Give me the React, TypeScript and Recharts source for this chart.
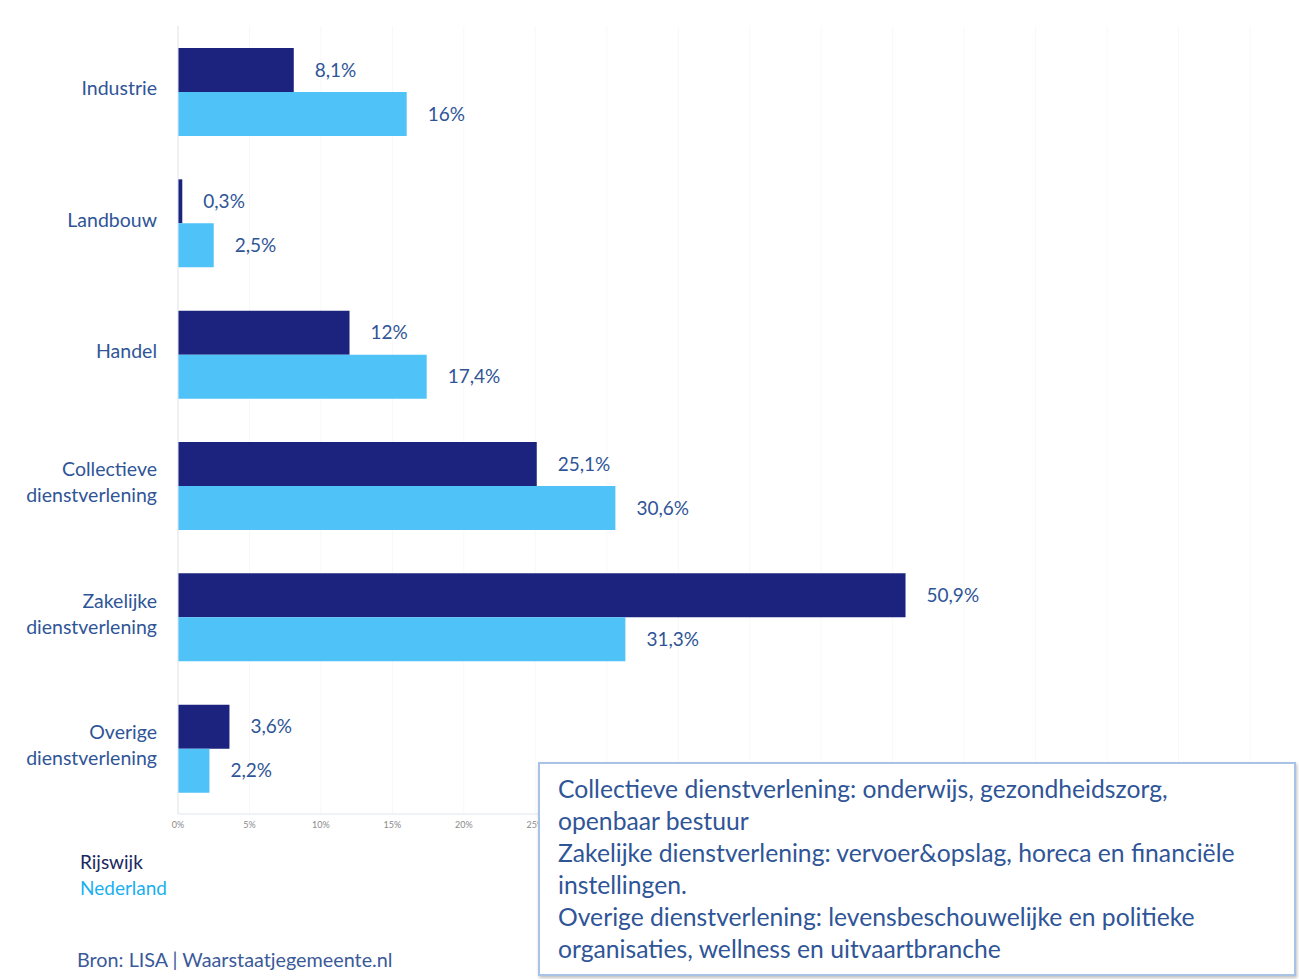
import React from 'react';
import { BarChart, Bar, XAxis, YAxis, CartesianGrid, LabelList } from 'recharts';

const categories = [
  'Industrie',
  'Landbouw',
  'Handel',
  'Collectieve dienstverlening',
  'Zakelijke dienstverlening',
  'Overige dienstverlening',
];
const rijswijk = [8.1, 0.3, 12, 25.1, 50.9, 3.6];
const nederland = [16, 2.5, 17.4, 30.6, 31.3, 2.2];
const xTicks = [0, 5, 10, 15, 20, 25, 30, 35, 40, 45, 50, 55, 60, 65, 70, 75];
const visibleTickMax = 25;
const noteLines = [
  'Collectieve dienstverlening: onderwijs, gezondheidszorg,',
  'openbaar bestuur',
  'Zakelijke dienstverlening: vervoer&opslag, horeca en financiële',
  'instellingen.',
  'Overige dienstverlening: levensbeschouwelijke en politieke',
  'organisaties, wellness en uitvaartbranche',
];

const data = categories.map((name, i) => ({ name, rijswijk: rijswijk[i], nederland: nederland[i] }));

const FONT = 'Lato, "Noto Sans", sans-serif';
const TEXT = '#2f5597';

const fmt = (v: any) => String(v).replace('.', ',') + '%';

const CatTick = (props: any) => {
  const { x, y, payload } = props;
  const words = String(payload.value).split(' ');
  const lines = words.length > 1 ? words : [payload.value];
  const lh = 26;
  const start = y - 3 - ((lines.length - 1) * lh) / 2;
  return (
    <text x={x - 13} y={start} textAnchor="end" fontFamily={FONT} fontSize={19.5} fill={TEXT}>
      {lines.map((l: string, i: number) => (
        <tspan key={i} x={x - 13} y={start + i * lh} dy="0.35em">
          {l}
        </tspan>
      ))}
    </text>
  );
};

const NumTick = (props: any) => {
  const { x, y, payload } = props;
  if (payload.value > visibleTickMax) return null;
  return (
    <text x={x} y={y} dy="0.71em" textAnchor="middle" fontFamily={FONT} fontSize={9} fill="#8a8a8a">
      {`${payload.value}%`}
    </text>
  );
};

export default function App() {
  return (
    <div style={{ position: 'absolute', left: 0, top: 0, width: 1299, height: 979, background: '#fff', fontFamily: FONT }}>
      <BarChart
        width={1299}
        height={979}
        data={data}
        layout="vertical"
        margin={{ top: 26, right: 49, bottom: 135, left: 0 }}
        barGap={0}
      >
        <CartesianGrid horizontal={false} stroke="#f8f8f8" />
        <XAxis
          type="number"
          domain={[0, 75]}
          ticks={xTicks}
          tick={<NumTick />}
          axisLine={{ stroke: '#dfe7ee' }}
          tickLine={false}
          height={30}
        />
        <YAxis
          type="category"
          dataKey="name"
          width={178}
          tick={<CatTick />}
          axisLine={{ stroke: '#dfe7ee' }}
          tickLine={false}
        />
        <Bar dataKey="rijswijk" fill="#1b237e" barSize={44} isAnimationActive={false}>
          <LabelList dataKey="rijswijk" position="right" offset={21} formatter={fmt} fill={TEXT} fontSize={19} fontFamily={FONT} />
        </Bar>
        <Bar dataKey="nederland" fill="#4fc3f7" barSize={44} isAnimationActive={false}>
          <LabelList dataKey="nederland" position="right" offset={21} formatter={fmt} fill={TEXT} fontSize={19} fontFamily={FONT} />
        </Bar>
      </BarChart>

      <div style={{ position: 'absolute', left: 80, top: 849, fontSize: 19, color: '#1a2860', lineHeight: '26px' }}>Rijswijk</div>
      <div style={{ position: 'absolute', left: 80, top: 875, fontSize: 19, color: '#1ab0f0', lineHeight: '26px' }}>Nederland</div>
      <div style={{ position: 'absolute', left: 77, top: 946, fontSize: 19.8, color: '#3b5a9a', lineHeight: '26px' }}>
        Bron: LISA | Waarstaatjegemeente.nl
      </div>

      <div
        style={{
          position: 'absolute',
          left: 538,
          top: 762,
          width: 758,
          height: 214,
          boxSizing: 'border-box',
          border: '2px solid #a9c3e6',
          background: '#fff',
          boxShadow: '1px 2px 3px rgba(0,0,0,0.25)',
          padding: '9px 0 0 18px',
          color: TEXT,
          fontSize: 24.7,
          lineHeight: '32px',
        }}
      >
        {noteLines.map((l, i) => (
          <div key={i} style={{ whiteSpace: 'nowrap' }}>{l}</div>
        ))}
      </div>
    </div>
  );
}
